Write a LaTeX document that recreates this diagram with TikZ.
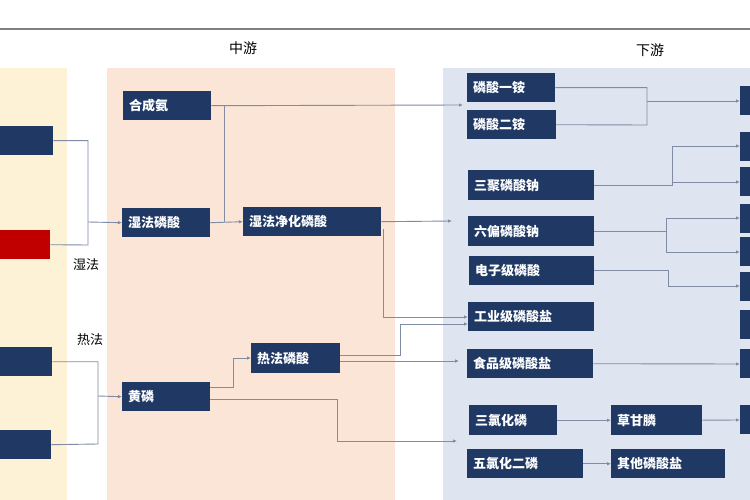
\documentclass[tikz,border=0pt]{standalone}
\usepackage{fontspec}
\setmainfont{Noto Sans CJK SC}
\usetikzlibrary{arrows.meta}
\definecolor{navy}{HTML}{1F3864}
\definecolor{lnc}{HTML}{7F8CA3}
\begin{document}
\begin{tikzpicture}[x=1pt,y=-1pt,
 bx/.style={fill=navy,text=white,font=\fontsize{13}{15}\selectfont\bfseries,inner sep=0pt,anchor=north west},
 ln/.style={draw=lnc,line width=0.9pt},
 ar/.style={ln,-{Latex[length=4pt,width=3.5pt]}}]
\useasboundingbox (0,0) rectangle (750,500);
\fill[white] (0,0) rectangle (750,500);
\draw[gray,line width=1.2pt] (0,29) -- (750,29);
\fill[fill={rgb,255:red,253;green,241;blue,214}] (0,68) rectangle (67,500);
\fill[fill={rgb,255:red,251;green,229;blue,214}] (107,68) rectangle (395,500);
\fill[fill={rgb,255:red,222;green,229;blue,240}] (443,68) rectangle (750,500);
\node[font=\fontsize{14}{16}\selectfont] (t1) at (243,48) {中游};
\node[font=\fontsize{14}{16}\selectfont] (t2) at (650,50) {下游};
\node[font=\fontsize{13}{15}\selectfont] (l1) at (86,265) {湿法};
\node[font=\fontsize{13}{15}\selectfont] (l2) at (90,340) {热法};
% left partial
\node[bx,minimum width=53pt,minimum height=29pt] (a1) at (0,126) {};
\node[bx,fill={rgb,255:red,192;green,0;blue,0},minimum width=50pt,minimum height=29pt] (a2) at (0,230) {};
\node[bx,minimum width=52pt,minimum height=29pt] (a3) at (0,347) {};
\node[bx,minimum width=51pt,minimum height=29pt] (a4) at (0,430) {};
% middle
\newcommand\bxn[6]{\node[bx,minimum width=#4pt,minimum height=#5pt,text width=#4pt,align=left] (#1) at (#2,#3) {\hspace*{6pt}#6};}
\bxn{hcd}{123}{91}{88}{29}{合成氨}
\bxn{sfl}{122}{208}{88}{29}{湿法磷酸}
\bxn{sfj}{243}{207}{138}{29}{湿法净化磷酸}
\bxn{rfl}{251}{343}{89}{30}{热法磷酸}
\bxn{hl}{122}{382}{88}{29}{黄磷}
% right
\bxn{r1}{467}{73}{88}{29}{磷酸一铵}
\bxn{r2}{467}{110}{89}{29}{磷酸二铵}
\bxn{r3}{468}{170}{126}{30}{三聚磷酸钠}
\bxn{r4}{468}{216}{126}{30}{六偏磷酸钠}
\bxn{r5}{469}{256}{125}{29}{电子级磷酸}
\bxn{r6}{468}{302}{126}{29}{工业级磷酸盐}
\bxn{r7}{467}{349}{126}{29}{食品级磷酸盐}
\bxn{r8}{469}{405}{88}{30}{三氯化磷}
\bxn{r9}{611}{405}{91}{30}{草甘膦}
\bxn{r10}{467}{449}{116}{29}{五氯化二磷}
\bxn{r11}{611}{449}{114}{29}{其他磷酸盐}
% far right partial
\foreach \y/\n in {86/f1,132/f2,167/f3,204/f4,237/f5,272/f6,310/f7,349/f8,405/f9}
  \node[bx,minimum width=12pt,minimum height=29pt] (\n) at (740,\y) {};
% connectors left
\draw[ln] (a1.east) -| (88,245) -- (a2.east);
\draw[ar] (88,222) -- (sfl.west);
\draw[ln] (a3.east) -| (98,444) -- (a4.east);
\draw[ar] (98,396) -- (hl.west);
% middle
\draw[ar] (hcd.east) -- (463,105);
\draw[ln] (224,105) -- (224,222);
\draw[ar] (sfl.east) -- (sfj.west);
\draw[ar] (sfj.east) -- (452,221);
\draw[ar] (383,229) |- (r6.west |- 0,317);
\draw[ar] (rfl.east |- 0,355) -| (400,324) -- (r6.west |- 0,324);
\draw[ar] (rfl.east |- 0,361) -- (459,361);
\draw[ar] (hl.east |- 0,387) -| (233,358) -- (rfl.west |- 0,358);
\draw[ar] (hl.east |- 0,399) -| (337,441) -- (457,441);
% right
\draw[ln] (r1.east) -| (647,125) -- (r2.east);
\draw[ar] (647,101) -- (f1.west |- 0,101);
\draw[ln] (r3.east) -| (672,146);
\draw[ar] (672,146) -- (f2.west |- 0,146);
\draw[ar] (672,182) -- (f3.west |- 0,182);
\draw[ln] (r4.east) -| (666,218);
\draw[ar] (666,218) -- (f4.west |- 0,218);
\draw[ar] (666,231) |- (f5.west |- 0,252);
\draw[ar] (r5.east) -| (668,286) -- (f6.west |- 0,286);
\draw[ar] (r7.east) -- (f8.west |- 0,364);
\draw[ar] (r8.east) -- (r9.west);
\draw[ar] (r9.east) -- (f9.west |- 0,420);
\draw[ar] (r10.east) -- (r11.west);
\end{tikzpicture}
\end{document}
